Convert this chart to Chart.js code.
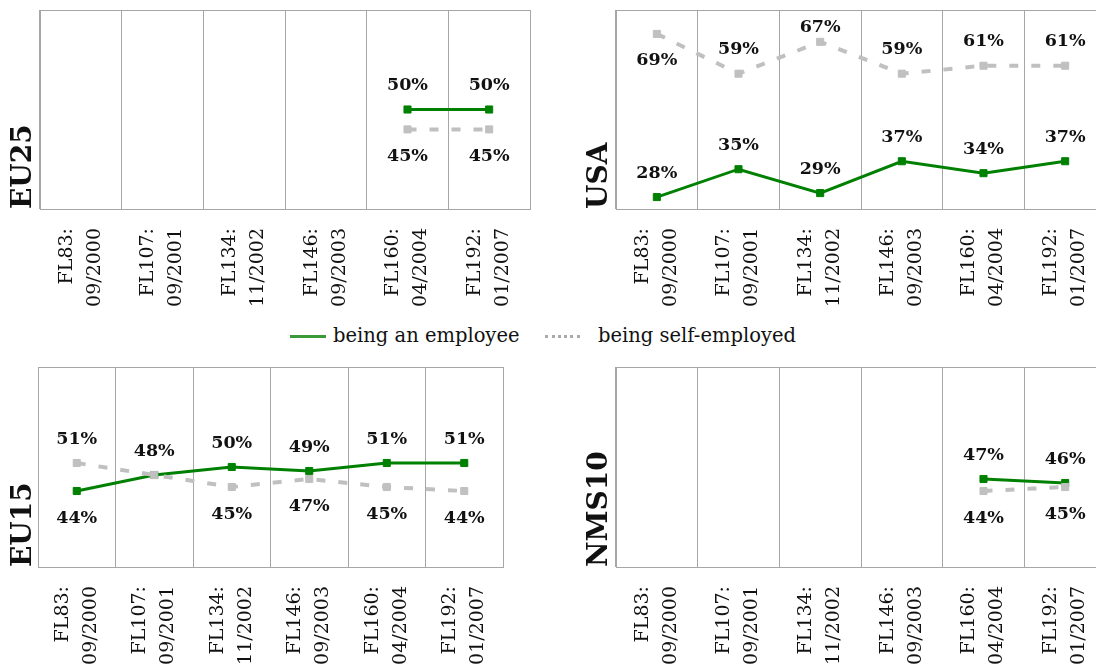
<!DOCTYPE html>
<html>
<head>
<meta charset="utf-8">
<script src="https://cdn.jsdelivr.net/npm/chart.js@4.4.0/dist/chart.umd.min.js"></script>
<style>
  html, body { margin:0; padding:0; background:#fff; overflow:hidden; width:1096px; height:665px; position:relative; }
  canvas { position:absolute; }
  #legend { position:absolute; top:324px; left:290px; height:24px; font:19.5px 'DejaVu Serif', serif; color:#111; white-space:nowrap; }
  #legend span { position:absolute; top:0; line-height:24px; }
  #legend i { position:absolute; top:11px; display:block; }
</style>
</head>
<body>
<canvas id="c-eu25" width="540" height="320" style="left:0;top:0"></canvas>
<canvas id="c-usa" width="540" height="320" style="left:576px;top:0"></canvas>
<canvas id="c-eu15" width="513" height="308" style="left:0;top:357px"></canvas>
<canvas id="c-nms10" width="540" height="308" style="left:576px;top:357px"></canvas>
<div id="legend">
  <i style="left:0;width:36px;border-top:3px solid #3a9a3a"></i>
  <span style="left:43px">being an employee</span>
  <i style="left:255px;width:35px;border-top:3px dotted #aaa"></i>
  <span style="left:308px">being self-employed</span>
</div>
<script>
const categories = [
  ['FL83:', '09/2000'], ['FL107:', '09/2001'], ['FL134:', '11/2002'],
  ['FL146:', '09/2003'], ['FL160:', '04/2004'], ['FL192:', '01/2007']
];
const eu25Employee  = [null, null, null, null, 50, 50];
const eu25Self      = [null, null, null, null, 45, 45];
const usaEmployee   = [28, 35, 29, 37, 34, 37];
const usaSelf       = [69, 59, 67, 59, 61, 61];
const eu15Employee  = [44, 48, 50, 49, 51, 51];
const eu15Self      = [51, 48, 45, 47, 45, 44];
const nms10Employee = [null, null, null, null, 47, 46];
const nms10Self     = [null, null, null, null, 44, 45];

// where each value label sits: above / tight above / below the point (null = not shown)
const U = 'up', T = 'tight', D = 'down';
const LABEL_DY = { up: -24, tight: -14, down: 27 };
const eu25EmpPos  = [U, U, U, U, U, U];
const eu25SelfPos = [D, D, D, D, D, D];
const usaEmpPos   = [U, U, U, U, U, U];
const usaSelfPos  = [D, U, T, U, U, U];
const eu15EmpPos  = [D, U, U, U, U, U];
const eu15SelfPos = [U, null, D, D, D, D];
const nms10EmpPos  = [U, U, U, U, U, U];
const nms10SelfPos = [D, D, D, D, D, D];

const GRID = '#a6a6a6';
const FONT = 'DejaVu Serif';

const valueLabels = {
  id: 'valueLabels',
  afterDatasetsDraw(chart) {
    const ctx = chart.ctx;
    ctx.save();
    ctx.font = 'bold 17.5px "' + FONT + '"';
    ctx.fillStyle = '#111';
    ctx.textAlign = 'center';
    ctx.textBaseline = 'middle';
    chart.data.datasets.forEach((ds, di) => {
      const meta = chart.getDatasetMeta(di);
      meta.data.forEach((pt, i) => {
        const v = ds.data[i];
        const pos = ds.labelPos[i];
        if (v == null || !pos) return;
        ctx.fillText(v + '%', pt.x, pt.y + LABEL_DY[pos]);
      });
    });
    ctx.restore();
  }
};

function makePanel(id, title, emp, self, empPos, selfPos, yw, xh) {
  new Chart(document.getElementById(id), {
    type: 'line',
    data: {
      labels: categories,
      datasets: [
        { label: 'being self-employed', data: self, labelPos: selfPos,
          borderColor: '#c0c0c0', backgroundColor: '#c0c0c0', borderWidth: 4, borderDash: [9, 13],
          pointStyle: 'rect', pointRadius: 5, pointBorderWidth: 1, spanGaps: false },
        { label: 'being an employee', data: emp, labelPos: empPos,
          borderColor: '#008000', backgroundColor: '#008000', borderWidth: 3,
          pointStyle: 'rect', pointRadius: 5, pointBorderWidth: 1, spanGaps: false }
      ]
    },
    options: {
      responsive: false,
      animation: false,
      devicePixelRatio: 1,
      layout: { padding: { top: 10, right: 10, left: 0, bottom: 0 } },
      plugins: { legend: { display: false }, tooltip: { enabled: false } },
      scales: {
        x: {
          offset: true,
          grid: { offset: true, color: GRID, drawTicks: false },
          border: { color: GRID },
          ticks: { autoSkip: false, minRotation: 90, maxRotation: 90, padding: 19, labelOffset: -14,
                   color: '#111', font: { family: FONT, size: 19, lineHeight: 1.47 } },
          afterFit: s => { s.height = xh; s.paddingLeft = 0; s.paddingRight = 0; }
        },
        y: {
          min: 25, max: 75,
          ticks: { display: false, stepSize: 50 },
          grid: { drawTicks: false, color: c => (c.tick && c.tick.value === 75) ? GRID : 'rgba(0,0,0,0)' },
          border: { color: GRID },
          title: { display: true, text: title, align: 'start', color: '#111',
                   font: { family: FONT, size: 28, weight: 'bold', lineHeight: 1 },
                   padding: { top: 10, bottom: 0 } },
          afterFit: s => { s.width = yw; s.paddingTop = 0; s.paddingBottom = 0; }
        }
      }
    },
    plugins: [valueLabels]
  });
}

makePanel('c-eu25', 'EU25', eu25Employee, eu25Self, eu25EmpPos, eu25SelfPos, 40, 111);
makePanel('c-usa', 'USA', usaEmployee, usaSelf, usaEmpPos, usaSelfPos, 40, 111);
makePanel('c-eu15', 'EU15', eu15Employee, eu15Self, eu15EmpPos, eu15SelfPos, 38, 98);
makePanel('c-nms10', 'NMS10', nms10Employee, nms10Self, nms10EmpPos, nms10SelfPos, 40, 98);
</script>
</body>
</html>
